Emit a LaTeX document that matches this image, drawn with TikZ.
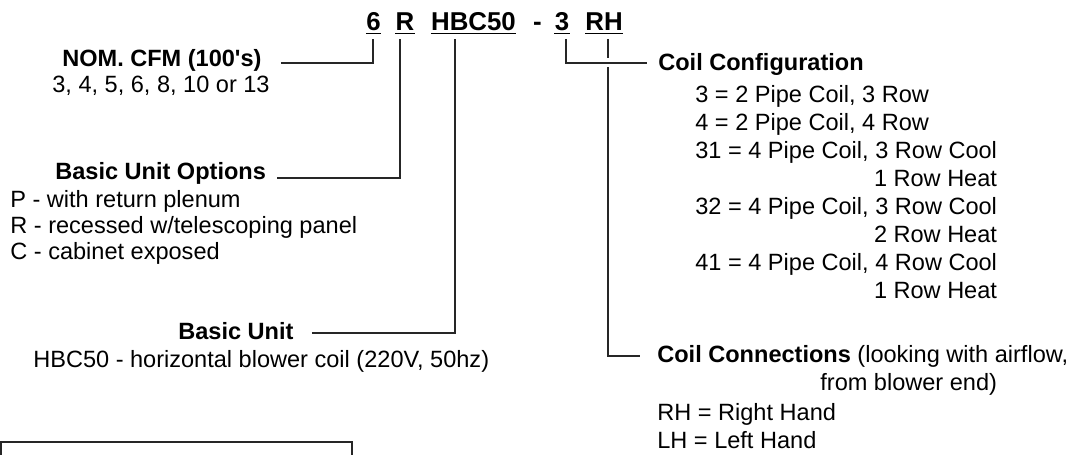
\documentclass[tikz,border=0pt]{standalone}
\usepackage{fontspec}
\setmainfont{Liberation Sans}
\usepackage{tikz}
\usetikzlibrary{calc}

\begin{document}
\begin{tikzpicture}[x=0.02cm, y=-0.02cm,
    lbl/.style={inner sep=0pt, anchor=base west, font=\fontsize{13.4}{16}\selectfont},
    hdr/.style={lbl, font=\fontsize{13.4}{16}\selectfont\bfseries},
    code/.style={inner sep=0pt, anchor=base, font=\fontsize{14.7}{17}\selectfont\bfseries},
    lead/.style={line width=0.75pt, black!85},
    uline/.style={line width=0.9pt}]
  \useasboundingbox (0,0) rectangle (1081,455);
  % Model code
  \node[code] (c6) at (373.5,31) {6};
  \node[code] (cR) at (405,31) {R};
  \node[code] (cHBC) at (473.5,31) {HBC50};
  \node[code] (cdash) at (537.5,31) {-};
  \node[code] (c3) at (562,31) {3};
  \node[code] (cRH) at (604,31) {RH};
  \foreach \n in {c6,cR,cHBC,c3,cRH}
    \draw[uline] ([yshift=-1.5pt]\n.base west) -- ([yshift=-1.5pt]\n.base east);
  \coordinate (v6) at (373,39);
  \coordinate (vR) at (400,39);
  \coordinate (vHBC) at (455,39);
  \coordinate (v3) at (566,39);
  \coordinate (vRH) at (608,39);
  % Left side
  \node[hdr] (nom) at (62,67) {NOM. CFM (100\textquotesingle s)};
  \node[lbl] (nomsz) at (52,93) {3, 4, 5, 6, 8, 10 or 13};
  \draw[lead] ($(nom.base east)+(19,-4)$) -| (v6);
  \node[hdr] (opt) at (55,180) {Basic Unit Options};
  \node[lbl] (optP) at (10,208) {P - with return plenum};
  \node[lbl] (optR) at (10,234) {R - recessed w/telescoping panel};
  \node[lbl] (optC) at (10,260) {C - cabinet exposed};
  \draw[lead] ($(opt.base east)+(11,-2)$) -| (vR);
  \node[hdr] (unit) at (178,340) {Basic Unit};
  \node[lbl] (unitH) at (33,368) {HBC50 - horizontal blower coil (220V, 50hz)};
  \draw[lead] ($(unit.base east)+(18,-7)$) -| (vHBC);
  % Right side
  \node[hdr] (cfg) at (658,71) {Coil Configuration};
  \coordinate (cfgL) at ($(cfg.base west)+(-11,-8)$);
  \draw[lead] (v3) |- (cfgL);
  \node[lbl] (cf3) at (695,103) {3 = 2 Pipe Coil, 3 Row};
  \node[lbl] (cf4) at (695,131) {4 = 2 Pipe Coil, 4 Row};
  \node[lbl] (cf31) at (695,159) {31 = 4 Pipe Coil, 3 Row Cool};
  \node[lbl, anchor=base east] (cf31h) at ($(cf31.base east)+(0,28)$) {1 Row Heat};
  \node[lbl] (cf32) at (695,215) {32 = 4 Pipe Coil, 3 Row Cool};
  \node[lbl, anchor=base east] (cf32h) at ($(cf32.base east)+(0,28)$) {2 Row Heat};
  \node[lbl] (cf41) at (695,271) {41 = 4 Pipe Coil, 4 Row Cool};
  \node[lbl, anchor=base east] (cf41h) at ($(cf41.base east)+(0,28)$) {1 Row Heat};
  \node[lbl] (conn) at (657,363) {\textbf{Coil Connections} (looking with airflow,};
  \node[lbl, anchor=base east] (conn2) at ($(cf41h.base east |- conn.base)+(0,28)$) {from blower end)};
  \node[lbl] (connR) at (657,420) {RH = Right Hand};
  \node[lbl] (connL) at (657,448) {LH = Left Hand};
  \coordinate (hop) at (vRH |- cfgL);
  \draw[lead] (vRH) -- ($(hop)+(0,-5)$);
  \draw[lead] ($(hop)+(0,4)$) |- ($(conn.base west)+(-17,-7)$);
  % Box at the bottom
  \draw[lead] (1,442) rectangle (352,480);
\end{tikzpicture}
\end{document}
